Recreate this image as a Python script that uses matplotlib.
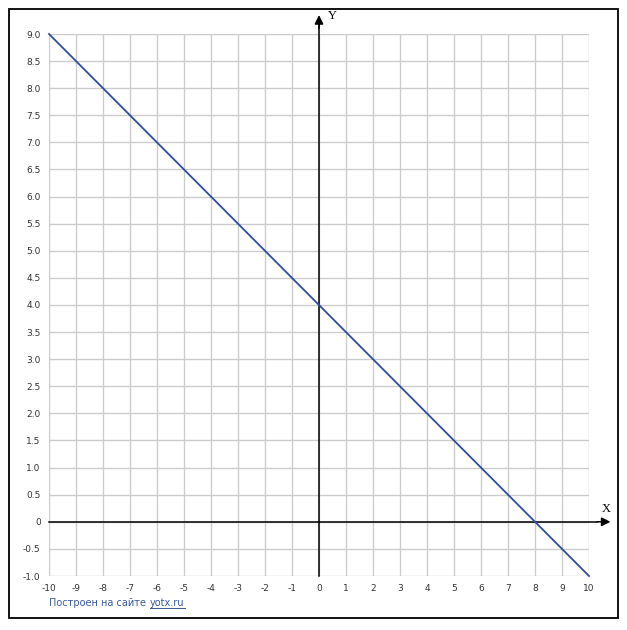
import matplotlib.pyplot as plt
from matplotlib.patches import Rectangle

# line y = 4 - 0.5x, endpoints
line_x = [-10, 10]
line_y = [9, -1]

x_ticks = list(range(-10, 11))
x_labels = [str(v) for v in x_ticks]
y_ticks = [9.0, 8.5, 8.0, 7.5, 7.0, 6.5, 6.0, 5.5, 5.0, 4.5, 4.0, 3.5, 3.0,
           2.5, 2.0, 1.5, 1.0, 0.5, 0, -0.5, -1.0]
y_labels = ["0" if v == 0 else f"{v:.1f}" for v in y_ticks]

W, H = 627, 630
fig = plt.figure(figsize=(W / 100, H / 100), dpi=100)
fig.patch.set_facecolor("white")

# outer frame
fig.patches.append(Rectangle((9 / W, 1 - 618 / H), 609 / W, 609 / H,
                             transform=fig.transFigure, fill=False,
                             edgecolor="black", linewidth=1.3))

ax = fig.add_axes([49 / W, 1 - 576 / H, 540 / W, 542 / H])
ax.set_xlim(-10, 10)
ax.set_ylim(-1, 9)
for s in ax.spines.values():
    s.set_visible(False)

ax.set_xticks(x_ticks)
ax.set_xticklabels(x_labels)
ax.set_yticks(y_ticks)
ax.set_yticklabels(y_labels)
ax.tick_params(length=0, labelsize=6.5, colors="#333333", pad=6)
ax.grid(True, color="#cccccc", linewidth=1)
ax.set_axisbelow(True)

# coordinate axes with arrows
arrow = dict(arrowstyle="-|>", color="black", lw=1.1, mutation_scale=13)
ax.plot([-10, 10.3], [0, 0], color="black", linewidth=1.1, clip_on=False)
ax.annotate("", xy=(10.9, 0), xytext=(10.2, 0), arrowprops=arrow,
            annotation_clip=False)
ax.plot([0, 0], [-1, 9.2], color="black", linewidth=1.1, clip_on=False)
ax.annotate("", xy=(0, 9.4), xytext=(0, 9.05), arrowprops=arrow,
            annotation_clip=False)
ax.text(10.65, 0.13, "X", family="Liberation Serif", fontsize=9,
        ha="center", va="bottom", clip_on=False)
ax.text(0.5, 9.33, "Y", family="Liberation Serif", fontsize=9,
        ha="center", va="center", clip_on=False)

ax.plot(line_x, line_y, color="#2e4d9c", linewidth=1.3, clip_on=False, zorder=5)

# caption with underlined link
cap_y = 1 - 603 / H
t1 = fig.text(49 / W, cap_y, "Построен на сайте", fontsize=7,
              color="#3a5a9a", va="center", ha="left")
fig.canvas.draw()
bb = t1.get_window_extent()
x2 = (bb.x1 + 4) / W
t2 = fig.text(x2, cap_y, "yotx.ru", fontsize=7,
              color="#3a5a9a", va="center", ha="left")
fig.canvas.draw()
bb2 = t2.get_window_extent()
fig.lines.append(plt.Line2D([bb2.x0 / W, bb2.x1 / W],
                            [bb2.y0 / H, bb2.y0 / H],
                            transform=fig.transFigure, color="#3a5a9a",
                            linewidth=0.7))

plt.savefig("out.png", dpi=100)
